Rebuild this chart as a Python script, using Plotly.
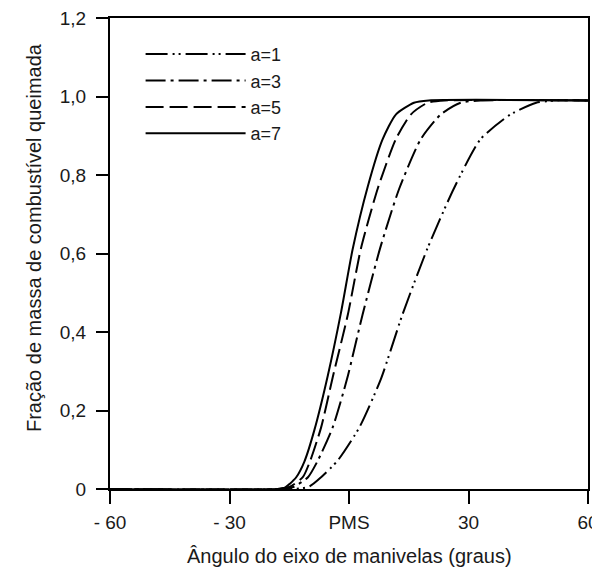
import plotly.graph_objects as go

# Crank angle (degrees) and burned mass fraction
theta_a1 = [-60, -14, -10, -7, -2.8, 2.6, 8, 13.4, 19.7, 26.3, 33, 40.5, 47, 52, 60]
xb_a1 = [0, 0, 0.006, 0.03, 0.073, 0.157, 0.28, 0.444, 0.613, 0.765, 0.891, 0.954, 0.984, 0.99, 0.99]

theta_a3 = [-60, -17, -14, -10.3, -7.8, -4.1, -0.5, 3.4, 7.8, 12.6, 18, 23, 28, 33, 60]
xb_a3 = [0, 0, 0.005, 0.03, 0.073, 0.157, 0.28, 0.444, 0.613, 0.765, 0.891, 0.954, 0.984, 0.99, 0.99]

theta_a5 = [-60, -18, -15, -11.6, -9.7, -7, -4.1, -0.3, 3, 7.2, 11.75, 15.5, 19.7, 24, 60]
xb_a5 = [0, 0, 0.005, 0.03, 0.073, 0.157, 0.284, 0.444, 0.613, 0.765, 0.891, 0.954, 0.984, 0.99, 0.99]

theta_a7 = [-60, -18, -16, -14.9, -13.25, -11.2, -8.7, -5.3, -2, 0.9, 4.7, 8.4, 11.75, 16.3, 20, 60]
xb_a7 = [0, 0, 0.004, 0.013, 0.03, 0.07, 0.15, 0.29, 0.45, 0.61, 0.77, 0.89, 0.954, 0.984, 0.99, 0.99]

x_tickvals = [-60, -30, 0, 30, 60]
x_ticktext = ["- 60", "- 30", "PMS", "30", "60"]
y_tickvals = [0, 0.2, 0.4, 0.6, 0.8, 1.0, 1.2]
y_ticktext = ["0", "0,2", "0,4", "0,6", "0,8", "1,0", "1,2"]

x_title = "Ângulo do eixo de manivelas (graus)"
y_title = "Fração de massa de combustível queimada"

series = [
    ("a=1", theta_a1, xb_a1, "22px,5px,2px,4px,2px,5px"),
    ("a=3", theta_a3, xb_a3, "20px,5px,3px,5px"),
    ("a=5", theta_a5, xb_a5, "18px,6px"),
    ("a=7", theta_a7, xb_a7, "solid"),
]

fig = go.Figure()
for name, xs, ys, dash in series:
    fig.add_trace(go.Scatter(
        x=xs, y=ys, mode="lines", name=name,
        line=dict(color="black", width=2, dash=dash, shape="spline", smoothing=0.6),
    ))

font_family = "Liberation Sans, Arial, sans-serif"
text_color = "#1a1a1a"
# the page body adds an 8px offset, so the figure is sized to fit the window
fig.update_layout(
    width=592, height=568,
    margin=dict(l=102, r=12, t=10, b=87),
    paper_bgcolor="white", plot_bgcolor="white",
    font=dict(family=font_family, size=19, color=text_color),
    showlegend=True,
    legend=dict(
        x=0.064, y=0.962, xanchor="left", yanchor="top",
        bgcolor="rgba(0,0,0,0)", borderwidth=0,
        font=dict(size=18, color=text_color),
        itemwidth=100, tracegroupgap=0,
    ),
    xaxis=dict(
        range=[-60, 60], tickmode="array", tickvals=x_tickvals, ticktext=x_ticktext,
        ticks="outside", ticklen=13, tickwidth=1.5, tickcolor="black",
        tickfont=dict(size=19), ticklabelstandoff=2, ticklabeloverflow="allow",
        showline=True, linecolor="black", linewidth=2, mirror=True,
        showgrid=False, zeroline=False, automargin=False,
    ),
    yaxis=dict(
        range=[0, 1.2], tickmode="array", tickvals=y_tickvals, ticktext=y_ticktext,
        ticks="outside", ticklen=12, tickwidth=1.5, tickcolor="black",
        tickfont=dict(size=19), ticklabelstandoff=6, ticklabeloverflow="allow",
        showline=True, linecolor="black", linewidth=2, mirror=True,
        showgrid=False, zeroline=False, automargin=False,
    ),
    annotations=[
        dict(text=x_title, xref="paper", yref="paper", x=0.5, y=-0.142,
             xanchor="center", yanchor="middle", showarrow=False,
             font=dict(size=20, color=text_color)),
        dict(text=y_title, xref="paper", yref="paper", x=-0.159, y=0.535,
             xanchor="center", yanchor="middle", showarrow=False, textangle=-90,
             font=dict(size=20, color=text_color)),
    ],
)

fig.write_html("out.html")
